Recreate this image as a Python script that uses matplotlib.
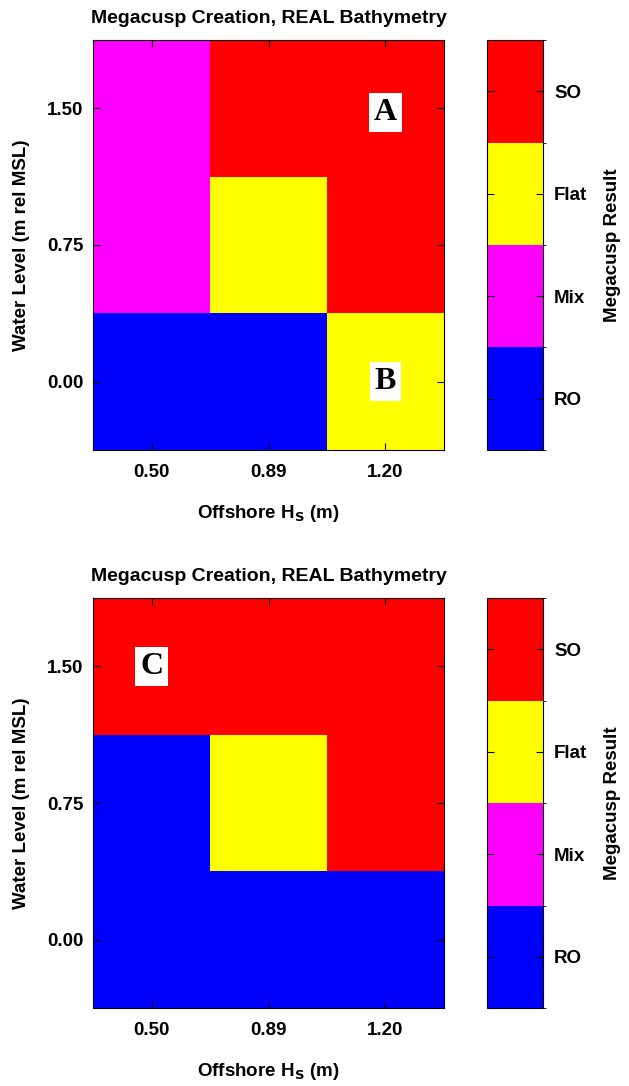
import numpy as np
import matplotlib
matplotlib.use('Agg')
import matplotlib.pyplot as plt
from matplotlib.colors import ListedColormap, BoundaryNorm

plt.rcParams['font.family'] = ['Liberation Sans', 'DejaVu Sans']
plt.rcParams['font.weight'] = 'bold'
plt.rcParams['axes.labelweight'] = 'bold'
plt.rcParams['axes.titleweight'] = 'bold'

# ── Data ──────────────────────────────────────────────────────────────────────
hs_labels = ['0.50', '0.89', '1.20']
wl_labels = ['0.00', '0.75', '1.50']
result_names = ['RO', 'Mix', 'Flat', 'SO']
result_colors = ['#0000ff', '#ff00ff', '#ffff00', '#ff0000']

# rows = water level (0.00, 0.75, 1.50), cols = Hs (0.50, 0.89, 1.20)
# codes: 0=RO, 1=Mix, 2=Flat, 3=SO
grid_top = [[0, 0, 2],
            [1, 2, 3],
            [1, 3, 3]]
grid_bottom = [[0, 0, 0],
               [0, 2, 3],
               [3, 3, 3]]

panels = [
    (grid_top, [('A', 2, 1.97), ('B', 2, 0.0)]),
    (grid_bottom, [('C', 0, 2.0)]),
]

cmap = ListedColormap(result_colors)
norm = BoundaryNorm(np.arange(-0.5, len(result_names)), cmap.N)

W, H = 629, 1086
fig = plt.figure(figsize=(W / 100, H / 100), dpi=100)

def px_axes(x0, y0, x1, y1):
    return fig.add_axes([x0 / W, 1 - y1 / H, (x1 - x0) / W, (y1 - y0) / H])

offsets = [0, 558]
for (grid, letters), dy in zip(panels, offsets):
    ax = px_axes(93, 40 + dy, 444, 450 + dy)
    data = np.array(grid)
    ax.pcolormesh(np.arange(4) - 0.5, np.arange(4) - 0.5, data,
                  cmap=cmap, norm=norm, shading='flat')
    ax.set_xlim(-0.5, 2.5)
    ax.set_ylim(-0.5, 2.5)
    ax.set_xticks(range(3))
    ax.set_xticklabels(hs_labels)
    ax.set_yticks(range(3))
    ax.set_yticklabels(wl_labels)
    ax.tick_params(direction='in', top=True, right=True, length=5,
                   labelsize=13.5, pad=10)
    ax.tick_params(axis='y', pad=7)
    ax.set_title('Megacusp Creation, REAL Bathymetry', fontsize=14, pad=12)
    ax.set_xlabel('Offshore H$_\\mathbf{S}$ (m)', fontsize=13.5, labelpad=16)
    ax.set_ylabel('Water Level (m rel MSL)', fontsize=13.5, labelpad=12)
    for txt, cx, cy in letters:
        ax.text(cx, cy, txt, family='Liberation Serif', fontsize=23,
                fontweight='bold', ha='center', va='center',
                bbox=dict(facecolor='white', edgecolor='none',
                          boxstyle='square,pad=0.15'))

    cax = px_axes(487, 40 + dy, 543, 450 + dy)
    cb = fig.colorbar(matplotlib.cm.ScalarMappable(norm=norm, cmap=cmap),
                      cax=cax, ticks=range(len(result_names)))
    cb.ax.set_yticklabels(result_names)
    cb.ax.tick_params(direction='in', left=True, right=True, length=5,
                      labelsize=13.5, pad=8)
    cb.outline.set_linewidth(0.8)
    cb.set_label('Megacusp Result', fontsize=13.5, labelpad=12)

fig.savefig('out.png', dpi=100)
